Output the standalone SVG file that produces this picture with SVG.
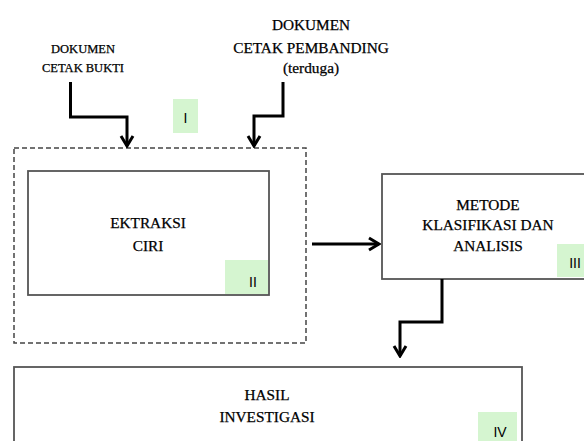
<svg xmlns="http://www.w3.org/2000/svg" width="584" height="441" viewBox="0 0 584 441">
<style>
.t{font-family:"Liberation Serif","Times New Roman",serif;fill:#000;stroke:#000;stroke-width:0.25;text-anchor:middle}
.s{font-size:12.5px}
.m{font-size:15.3px}
.box{fill:#ffffff;stroke:#555;stroke-width:1.8}
.tag{fill:#d5f5d0;stroke:none}
.tagt{font-family:"Liberation Sans",Arial,sans-serif;font-size:14px;fill:#000;text-anchor:middle}
.con{fill:none;stroke:#000;stroke-width:3;stroke-linejoin:miter;marker-end:url(#ah)}
</style>
<defs>
<marker id="ah" markerUnits="userSpaceOnUse" viewBox="-14 -9 16 18" markerWidth="16" markerHeight="18" refX="0" refY="0" orient="auto">
<path d="M-10,-6 L0,0 L-10,6" fill="none" stroke="#000" stroke-width="3" stroke-linejoin="miter"/>
</marker>
</defs>
<rect width="584" height="441" fill="#ffffff"/>
<g id="input1">
<text class="t s" x="83" y="53">DOKUMEN</text>
<text class="t s" x="83" y="72">CETAK BUKTI</text>
</g>
<g id="input2">
<text class="t m" x="311" y="30">DOKUMEN</text>
<text class="t m" x="311" y="53">CETAK PEMBANDING</text>
<text class="t m" x="311" y="73">(terduga)</text>
</g>
<g id="stage1">
<rect x="14" y="148" width="292" height="195" fill="none" stroke="#444" stroke-width="1.5" stroke-dasharray="5,3"/>
<rect class="tag" x="173" y="99" width="25" height="34"/>
<text class="tagt" x="185.5" y="123">I</text>
</g>
<g id="stage2">
<rect class="box" x="28" y="171" width="241" height="124"/>
<rect class="tag" x="225" y="260" width="43" height="34"/>
<text class="tagt" x="253" y="287">II</text>
<text class="t m" x="148" y="228">EKTRAKSI</text>
<text class="t m" x="148" y="251">CIRI</text>
</g>
<g id="stage3">
<rect class="box" x="382" y="174" width="210" height="105"/>
<rect class="tag" x="557" y="244" width="30" height="33"/>
<text class="tagt" x="575" y="268">III</text>
<text class="t m" x="488" y="210">METODE</text>
<text class="t m" x="488" y="230">KLASIFIKASI DAN</text>
<text class="t m" x="488" y="251">ANALISIS</text>
</g>
<g id="stage4">
<rect class="box" x="14" y="367" width="508" height="90"/>
<rect class="tag" x="478" y="412" width="39" height="40"/>
<text class="tagt" x="500" y="437">IV</text>
<text class="t m" x="267" y="400">HASIL</text>
<text class="t m" x="267" y="422">INVESTIGASI</text>
</g>
<g id="connectors">
<path class="con" d="M70.5,82 V117 H127 V146"/>
<path class="con" d="M283,82 V116 H254 V146"/>
<path class="con" d="M312,244 H379"/>
<path class="con" d="M442,279 V322 H400 V356"/>
</g>
</svg>
